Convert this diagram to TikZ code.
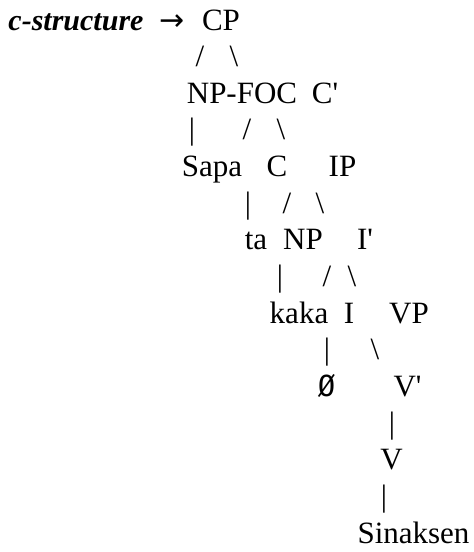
\documentclass[tikz,border=0pt]{standalone}
\usepackage{fontspec}
\setmainfont{Liberation Serif}
\newfontfamily\monofnt{DejaVu Sans Mono}
\newfontfamily\arrfnt{DejaVu Sans}
\begin{document}
\begin{tikzpicture}[x=1pt,y=-1pt,
  tok/.style={anchor=base,inner sep=0pt,outer sep=0pt,font=\fontsize{31}{36}\selectfont},
  lbl/.style={tok,font=\fontsize{30}{36}\selectfont\bfseries\itshape}]
\useasboundingbox (0,0) rectangle (474,552);
% row 0
\node[lbl] (lab) at (76,30) {c-structure};
\node[anchor=base,inner sep=0pt,font=\fontsize{30}{36}\arrfnt] (arr) at (172,30) {→};
\node[tok] (cp) at (221,30) {CP};
% row 1
\node[tok] (s1a) at (200,66.6) {/};
\node[tok] (s1b) at (234,66.6) {\textbackslash};
% row 2
\node[tok] (npfoc) at (242,103.3) {NP-FOC};
\node[tok] (cbar) at (325,103.3) {C\textquotesingle};
% row 3
\node[tok] (s3a) at (192,139.9) {\textbar};
\node[tok] (s3b) at (247,139.9) {/};
\node[tok] (s3c) at (281,139.9) {\textbackslash};
% row 4
\node[tok] (sapa) at (212,176.6) {Sapa};
\node[tok] (c) at (277,176.6) {C};
\node[tok] (ip) at (342.5,176.6) {IP};
% row 5
\node[tok] (s5a) at (248,213.2) {\textbar};
\node[tok] (s5b) at (287,213.2) {/};
\node[tok] (s5c) at (320,213.2) {\textbackslash};
% row 6
\node[tok] (ta) at (256,249.9) {ta};
\node[tok] (np) at (303,249.9) {NP};
\node[tok] (ibar) at (365,249.9) {I\textquotesingle};
% row 7
\node[tok] (s7a) at (280,286.5) {\textbar};
\node[tok] (s7b) at (327,286.5) {/};
\node[tok] (s7c) at (352,286.5) {\textbackslash};
% row 8
\node[tok] (kaka) at (299,323.2) {kaka};
\node[tok] (i) at (349,323.2) {I};
\node[tok] (vp) at (409,323.2) {VP};
% row 9
\node[tok] (s9a) at (327,359.8) {\textbar};
\node[tok] (s9b) at (375,359.8) {\textbackslash};
% row 10
\node[tok,font=\fontsize{29}{36}\monofnt] (empty) at (326.5,396.4) {Ø};
\node[tok] (vbar) at (407.5,396.4) {V\textquotesingle};
% row 11
\node[tok] (s11) at (392,433.1) {\textbar};
% row 12
\node[tok] (v) at (391.5,469.7) {V};
% row 13
\node[tok] (s13) at (384,506.4) {\textbar};
% row 14
\node[tok] (sin) at (413.5,543) {Sinaksen};
\end{tikzpicture}
\end{document}
